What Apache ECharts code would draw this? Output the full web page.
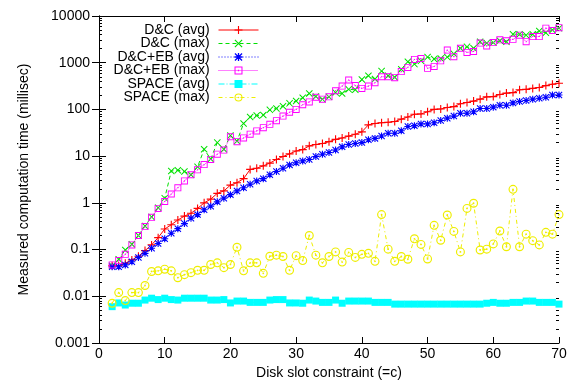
<!DOCTYPE html>
<html>
<head>
<meta charset="utf-8">
<script src="https://cdn.jsdelivr.net/npm/echarts@6/dist/echarts.min.js"></script>
<style>
html,body{margin:0;padding:0;background:#fff;}
#chart{width:579px;height:387px;}
</style>
</head>
<body>
<div id="chart"></div>
<script>
const diskSlots = [2,3,4,5,6,7,8,9,10,11,12,13,14,15,16,17,18,19,20,21,22,23,24,25,26,27,28,29,30,31,32,33,34,35,36,37,38,39,40,41,42,43,44,45,46,47,48,49,50,51,52,53,54,55,56,57,58,59,60,61,62,63,64,65,66,67,68,69,70];

const dcAvg = [0.045,0.045,0.051,0.060,0.072,0.095,0.126,0.18,0.275,
  0.34,0.43,0.52,0.60,0.76,1.0,1.2,1.6,1.8,2.4,
  2.7,3.3,5.2,5.5,6.2,7.1,8.5,9.8,11.2,12.9,
  13.8,16.6,17.8,18.6,20.4,22.9,24.5,26.9,29.5,33.1,
  46.8,50,52,53,55,62,69,79,80,89,
  100,102,110,115,132,141,151,166,186,188,
  209,224,229,263,269,282,295,324,347,363];

const dcMax = [0.045,0.062,0.098,0.13,0.2,0.32,0.5,0.79,1.26,
  4.8,5.0,4.7,4.0,5.9,14,8.7,19.5,14,27.5,
  21,50,69,74,76,98,105,117,135,151,
  178,219,190,166,186,229,219,269,263,437,
  525,447,661,525,490,724,1047,933,1096,1318,
  1202,1230,1318,1549,2042,2188,2042,2818,2630,2692,
  2951,2818,4074,4074,3890,4074,4786,4365,5012,5495];

const dcebAvg = [0.043,0.043,0.047,0.055,0.068,0.083,0.107,0.135,0.17,
  0.224,0.28,0.36,0.47,0.56,0.71,0.85,1.05,1.26,1.5,
  1.8,2.1,2.5,2.95,3.3,4.0,4.7,5.5,6.5,7.2,
  7.9,8.5,9.8,11,12,13.5,15.8,17.8,18.6,19.5,
  22.4,24,27,31,31,35,43,45,49,49,
  52,58,65,72,83,83,89,105,105,112,
  123,123,138,148,155,166,174,182,204,204];

const dcebMax = [0.047,0.058,0.079,0.126,0.2,0.31,0.49,0.76,1.07,
  1.55,2.1,2.95,4.0,5.1,6.6,8.5,11,13.5,26,
  20.4,24.5,29.5,34.7,40.7,47.9,57.5,72,87,100,
  126,145,182,166,186,251,316,427,324,282,
  316,372,501,501,479,646,794,1175,1230,759,
  832,1096,1862,1349,2042,1660,1738,2630,2291,2692,
  3090,2951,3162,3890,2818,3631,3631,5495,4898,5623];

const spaceAvg = [0.0060,0.0072,0.0065,0.0071,0.0071,0.0083,0.0091,0.0085,0.0091,
  0.0085,0.0083,0.0091,0.0091,0.0091,0.0091,0.0083,0.0083,0.0085,0.0072,
  0.0079,0.0079,0.0074,0.0074,0.0074,0.0083,0.0085,0.0085,0.0072,0.0072,
  0.0071,0.0083,0.0079,0.0074,0.0074,0.0083,0.0071,0.0079,0.0079,0.0079,
  0.0079,0.0074,0.0074,0.0074,0.0068,0.0068,0.0068,0.0068,0.0068,0.0068,
  0.0068,0.0068,0.0068,0.0068,0.0068,0.0068,0.0068,0.0068,0.0071,0.0074,
  0.0071,0.0071,0.0074,0.0074,0.0079,0.0079,0.0074,0.0074,0.0074,0.0068];

const spaceMax = [0.0071,0.012,0.0081,0.012,0.012,0.017,0.034,0.035,0.038,
  0.035,0.025,0.029,0.032,0.036,0.036,0.048,0.052,0.041,0.048,
  0.112,0.035,0.052,0.052,0.031,0.072,0.076,0.071,0.036,0.074,
  0.058,0.2,0.076,0.052,0.071,0.089,0.054,0.087,0.068,0.079,
  0.083,0.056,0.56,0.102,0.056,0.071,0.062,0.17,0.129,0.063,
  0.33,0.158,0.55,0.245,0.089,0.76,0.98,0.098,0.102,0.132,
  0.25,0.115,1.95,0.115,0.214,0.155,0.126,0.234,0.214,0.56];

const seriesNames = ['D&C (avg)','D&C (max)','D&C+EB (avg)','D&C+EB (max)','SPACE (avg)','SPACE (max)'];
const yTickValues = [0.001,0.01,0.1,1,10,100,1000,10000];
const yTickLabels = ['0.001','0.01','0.1','1','10','100','1000','10000'];

// minor ticks (2..9 per decade)
const yMinorTicks = [];
for (let e = -3; e < 4; e++) {
  for (let k = 2; k <= 9; k++) yMinorTicks.push(+(k * Math.pow(10, e)).toPrecision(3));
}

const FONT = '"Liberation Sans", Arial, sans-serif';
const BLACK = '#000';

const SYM_PLUS = 'path://M4.3,0 H5.7 V4.3 H10 V5.7 H5.7 V10 H4.3 V5.7 H0 V4.3 H4.3 Z';
const SYM_X = 'path://M0,1 L1,0 L5,4 L9,0 L10,1 L6,5 L10,9 L9,10 L5,6 L1,10 L0,9 L4,5 Z';
const SYM_STAR = 'path://M4.2,0 H5.8 V4.2 H10 V5.8 H5.8 V10 H4.2 V5.8 H0 V4.2 H4.2 Z M0,1.1 L1.1,0 L5,3.9 L8.9,0 L10,1.1 L6.1,5 L10,8.9 L8.9,10 L5,6.1 L1.1,10 L0,8.9 L3.9,5 Z';
const SYM_RING = 'path://M0,5 A5,5 0 1,1 10,5 A5,5 0 1,1 0,5 Z M1.3,5 A3.7,3.7 0 1,0 8.7,5 A3.7,3.7 0 1,0 1.3,5 Z M4,5 A1,1 0 1,1 6,5 A1,1 0 1,1 4,5 Z';
const SYM_SQ = 'path://M0,0 H10 V10 H0 Z M1.3,1.3 V8.7 H8.7 V1.3 Z M4.2,4.2 H5.8 V5.8 H4.2 Z';

function pairs(arr) { return diskSlots.map((x, i) => [x, arr[i]]); }

function mk(name, arr, color, lineType, symbol, size) {
  return {
    name: name,
    type: 'line',
    data: pairs(arr),
    xAxisIndex: 0,
    yAxisIndex: 0,
    symbol: symbol,
    symbolSize: size,
    showAllSymbol: true,
    lineStyle: { color: color, width: 1, type: lineType },
    itemStyle: { color: color },
    emphasis: { disabled: true },
    animation: false
  };
}

const chart = echarts.init(document.getElementById('chart'), null, { renderer: 'canvas' });

const commonY = {
  type: 'log', logBase: 10, min: 0.001, max: 10000,
  splitLine: { show: false },
  axisLine: { show: true, lineStyle: { color: BLACK, width: 1 } }
};

chart.setOption({
  animation: false,
  backgroundColor: '#fff',
  textStyle: { fontFamily: FONT },
  grid: { left: 99, right: 20, top: 16, bottom: 44, containLabel: false },
  legend: {
    orient: 'vertical',
    align: 'right',
    right: 320,
    top: 23,
    padding: 0,
    itemWidth: 40,
    itemHeight: 10,
    itemGap: -0.5,
    data: seriesNames,
    formatter: function (n) { return n + ' '; },
    lineStyle: { width: 1 },
    textStyle: { fontSize: 14, color: BLACK, fontFamily: FONT },
    selectedMode: false
  },
  xAxis: [
    {
      type: 'value', min: 0, max: 70, interval: 10, position: 'bottom',
      name: 'Disk slot constraint (=c)', nameLocation: 'middle', nameGap: 16,
      nameTextStyle: { fontSize: 14, color: BLACK, fontFamily: FONT },
      axisLine: { show: true, onZero: false, lineStyle: { color: BLACK, width: 1 } },
      axisTick: { show: true, inside: true, length: 6, lineStyle: { color: BLACK } },
      axisLabel: { fontSize: 14, color: BLACK, margin: 4, fontFamily: FONT },
      splitLine: { show: false }
    },
    {
      type: 'value', min: 0, max: 70, interval: 10, position: 'top',
      axisLine: { show: true, onZero: false, lineStyle: { color: BLACK, width: 1 } },
      axisTick: { show: true, inside: true, length: 6, lineStyle: { color: BLACK } },
      axisLabel: { show: false },
      splitLine: { show: false }
    }
  ],
  yAxis: [
    Object.assign({}, commonY, {
      position: 'left',
      name: 'Measured computation time (millisec)', nameLocation: 'middle', nameGap: 68, nameRotate: 90,
      nameTextStyle: { fontSize: 14, color: BLACK, fontFamily: FONT },
      axisTick: { show: true, inside: true, length: 7, lineStyle: { color: BLACK }, customValues: yTickValues },
      axisLabel: {
        fontSize: 14, color: BLACK, margin: 9, fontFamily: FONT,
        customValues: yTickValues,
        formatter: function (v) {
          const idx = yTickValues.findIndex(t => Math.abs(Math.log10(t) - Math.log10(v)) < 1e-6);
          return idx >= 0 ? yTickLabels[idx] : '';
        }
      }
    }),
    Object.assign({}, commonY, {
      position: 'right',
      axisTick: { show: true, inside: true, length: 7, lineStyle: { color: BLACK }, customValues: yTickValues },
      axisLabel: { show: false }
    }),
    Object.assign({}, commonY, {
      position: 'left',
      axisLine: { show: false },
      axisTick: { show: true, inside: true, length: 3, lineStyle: { color: BLACK }, customValues: yMinorTicks },
      axisLabel: { show: false }
    }),
    Object.assign({}, commonY, {
      position: 'right',
      axisLine: { show: false },
      axisTick: { show: true, inside: true, length: 3, lineStyle: { color: BLACK }, customValues: yMinorTicks },
      axisLabel: { show: false }
    })
  ],
  series: [
    mk(seriesNames[0], dcAvg, '#ff0000', 'solid', SYM_PLUS, 8),
    mk(seriesNames[1], dcMax, '#00e000', [4, 3], SYM_X, 7),
    mk(seriesNames[2], dcebAvg, '#0000ff', [1, 2], SYM_STAR, 7),
    mk(seriesNames[3], dcebMax, '#ff00ff', [1, 1], SYM_SQ, 7),
    mk(seriesNames[4], spaceAvg, '#00ffff', [6, 2, 1, 2], 'rect', 7),
    mk(seriesNames[5], spaceMax, '#eeee00', [4, 3, 1, 3], SYM_RING, 9)
  ]
});
</script>
</body>
</html>
